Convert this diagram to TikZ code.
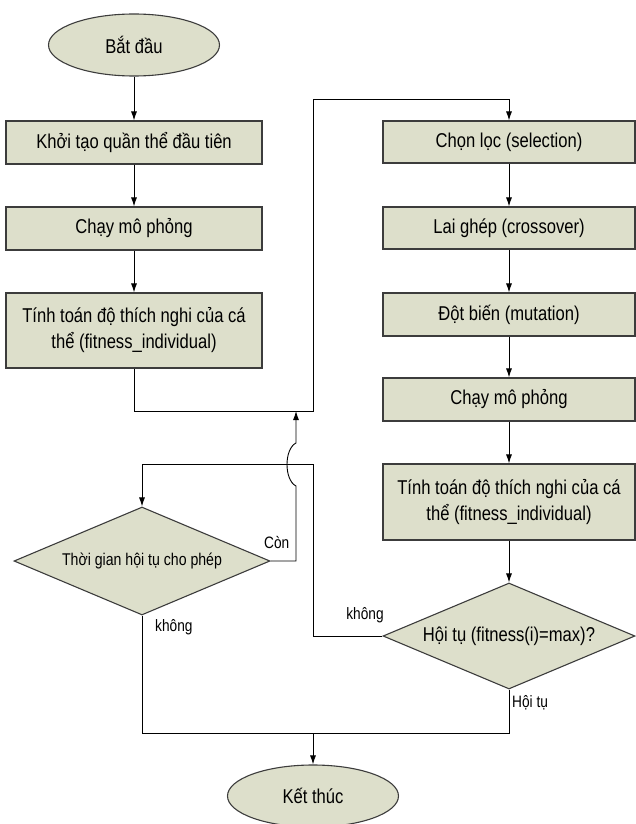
\documentclass[tikz,border=0pt]{standalone}
\usepackage{fontspec}
\setmainfont{Liberation Sans}[FakeStretch=0.83]
\usetikzlibrary{shapes.geometric,arrows.meta,calc}
\definecolor{boxfill}{RGB}{221,223,203}
\definecolor{boxline}{RGB}{60,60,60}
\begin{document}
\begin{tikzpicture}[x=1pt,y=-1pt,
  stepbox/.style={draw=boxline,fill=boxfill,line width=1.1pt,inner sep=0pt,
    align=center,font=\fontsize{20}{26}\selectfont},
  term/.style={ellipse,draw=boxline,fill=boxfill,line width=1.1pt,inner sep=0pt,
    minimum width=171pt,minimum height=62pt,font=\fontsize{20}{24}\selectfont},
  decide/.style={diamond,draw=boxline,fill=boxfill,line width=1.1pt,inner sep=0pt,
    shape aspect=2.37},
  conn/.style={line width=0.9pt,black},
  arr/.style={conn,-{Latex[length=9pt,width=6pt]}},
  lbl/.style={font=\fontsize{16.5}{19}\selectfont,inner sep=0pt}]
\useasboundingbox (0,0) rectangle (636,824);

% left column
\node[term] (start) at (134,45) {Bắt đầu};
\node[stepbox,minimum width=256pt,minimum height=43pt] (b1) at (134,142.5) {Khởi tạo quần thể đầu tiên};
\node[stepbox,minimum width=256pt,minimum height=43pt] (b2) at (134,228.5) {Chạy mô phỏng};
\node[stepbox,minimum width=256pt,minimum height=75pt] (b3) at (134,330.5) {Tính toán độ thích nghi của cá\\thể (fitness\_individual)};

% right column
\node[stepbox,minimum width=252pt,minimum height=42pt] (s1) at (509,142) {Chọn lọc (selection)};
\node[stepbox,minimum width=252pt,minimum height=42pt] (s2) at (509,228) {Lai ghép (crossover)};
\node[stepbox,minimum width=252pt,minimum height=43pt] (s3) at (509,314.5) {Đột biến (mutation)};
\node[stepbox,minimum width=252pt,minimum height=43pt] (s4) at (509,399.5) {Chạy mô phỏng};
\node[stepbox,minimum width=252pt,minimum height=76pt] (s5) at (509,502) {Tính toán độ thích nghi của cá\\thể (fitness\_individual)};

% decisions
\node[decide,minimum width=256pt,minimum height=108pt,font=\fontsize{17}{20}\selectfont] (d1) at (142,561) {Thời gian hội tụ cho phép};
\node[decide,minimum width=252pt,minimum height=106pt,font=\fontsize{20}{24}\selectfont] (d2) at (509,636) {Hội tụ (fitness(i)=max)?};

% end
\node[term] (end) at (313,796) {Kết thúc};

% junction coordinates
\coordinate (jn) at (313,411);
\coordinate (tp) at (313,99);
\coordinate (nj) at (313,464);
\coordinate (hb) at (296,486);
\coordinate (ht) at (296,443);
\coordinate (jt) at (296,411);
\coordinate (mj) at (313,733);

% connectors
\draw[arr] (start) -- (b1);
\draw[arr] (b1) -- (b2);
\draw[arr] (b2) -- (b3);
\draw[arr] (b3.south) |- (jn) -- (tp) -| (s1.north);
\draw[arr] (s1) -- (s2);
\draw[arr] (s2) -- (s3);
\draw[arr] (s3) -- (s4);
\draw[arr] (s4) -- (s5);
\draw[arr] (s5) -- (d2);
\draw[arr] (d2.west) -| (nj) -| (d1.north);
\draw[arr] (d1.east) -| (hb) .. controls +(-12,-6) and +(-12,6) .. (ht) -- (jt);
\draw[conn] (d1.south) |- (mj);
\draw[conn] (d2.south) |- (mj);
\draw[arr] (mj) -- (end.north);

% labels
\node[lbl,anchor=west] (lcon) at (264,542) {Còn};
\node[lbl] (lk1) at (365,615) {không};
\node[lbl,anchor=west] (lk2) at (155,627) {không};
\node[lbl,anchor=west] (lht) at (512,703) {Hội tụ};
\end{tikzpicture}
\end{document}
